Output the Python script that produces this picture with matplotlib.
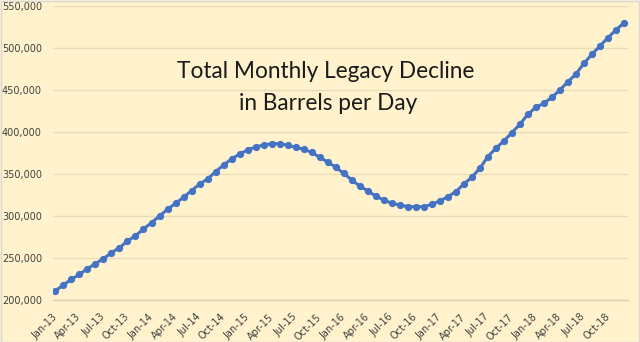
import matplotlib
matplotlib.use("Agg")
import matplotlib.pyplot as plt
from matplotlib.ticker import FuncFormatter, MultipleLocator
from matplotlib.patches import Rectangle

months = ["Jan", "Feb", "Mar", "Apr", "May", "Jun", "Jul", "Aug", "Sep", "Oct", "Nov", "Dec"]
years = ["13", "14", "15", "16", "17", "18"]
categories = [f"{m}-{y}" for y in years for m in months]

values = [
    211000, 217900, 224600, 230600, 237300, 243200, 249200, 256300, 262300, 270200, 276500, 284500,
    292000, 300000, 308000, 315100, 322300, 330100, 338000, 344000, 352700, 360700, 367900, 373800,
    378600, 382100, 384500, 386100, 386100, 384200, 381800, 379400, 375800, 369900, 364300, 358000,
    350800, 342900, 335700, 329800, 323800, 319000, 315100, 313100, 311100, 311100, 311100, 313900,
    317900, 323000, 328900, 338100, 346100, 356800, 370600, 380600, 389300, 399200, 409200, 421100,
    429400, 434200, 441300, 450000, 459900, 469000, 481800, 492500, 502400, 512300, 521400, 530100,
]

title_lines = ["Total Monthly Legacy Decline", "in Barrels per Day"]

bg = "#FFF2CC"
grid_c = "#E6DCB8"
line_c = "#4472C4"
text_c = "#404040"

fig = plt.figure(figsize=(6.4, 3.42), dpi=100, facecolor=bg)
ax = fig.add_axes([53 / 640, 1 - 300 / 342, (628 - 53) / 640, (300 - 6) / 342])
ax.set_facecolor(bg)

x = list(range(len(values)))
ax.plot(x, values, color=line_c, lw=2.2, marker="o", ms=4.2, mfc=line_c, mec=line_c, zorder=3)

ax.set_ylim(200000, 550000)
ax.set_xlim(-0.3, len(values) - 0.5)
ax.yaxis.set_major_locator(MultipleLocator(50000))
ax.yaxis.set_major_formatter(FuncFormatter(lambda v, p: f"{int(v):,}"))
ax.grid(axis="y", color=grid_c, lw=1.0, zorder=0)

tick_pos = list(range(0, len(values), 3))
ax.set_xticks(tick_pos)
ax.set_xticklabels([categories[i] for i in tick_pos], rotation=45, ha="right",
                   va="center", rotation_mode="anchor", fontsize=7, color=text_c)
ax.tick_params(axis="x", length=0, pad=11)
ax.tick_params(axis="y", length=0, pad=8, labelsize=7, labelcolor=text_c)

for s in ["top", "right", "left"]:
    ax.spines[s].set_visible(False)
ax.spines["bottom"].set_color("#D9D0B0")
ax.spines["bottom"].set_linewidth(1.0)

fig.text(326 / 640, 1 - 72 / 342, title_lines[0], ha="center", va="center",
         fontsize=16.3, family=["Lato", "DejaVu Sans"], color="#1a1a1a")
fig.text(328 / 640, 1 - 103 / 342, title_lines[1], ha="center", va="center",
         fontsize=16.3, family=["Lato", "DejaVu Sans"], color="#1a1a1a")

fig.patches.append(Rectangle((0.001, 0.001), 0.998, 0.997, transform=fig.transFigure,
                             fill=False, edgecolor="#D8D8D8", lw=1.0))

fig.savefig("out.png", dpi=100, facecolor=bg)
